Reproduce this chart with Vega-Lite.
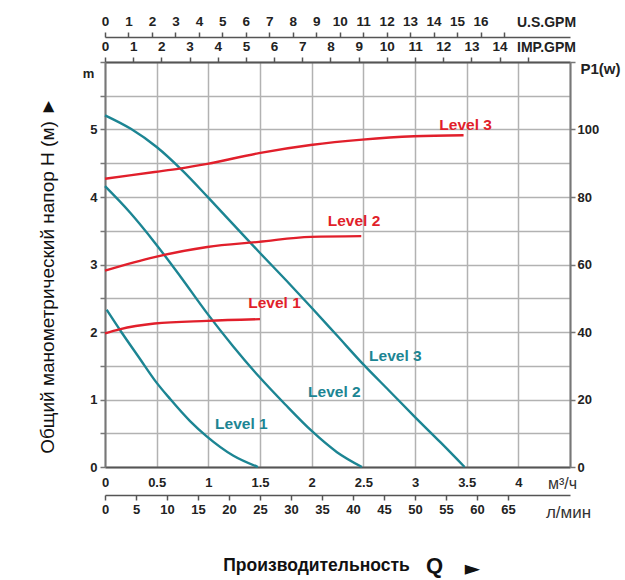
{
  "$schema": "https://vega.github.io/schema/vega-lite/v6.json",
  "width": 465,
  "height": 405,
  "autosize": {"type": "none"},
  "padding": {"left": 105, "top": 62, "right": 55, "bottom": 113},
  "background": "white",
  "config": {
    "view": {"stroke": null},
    "font": "Liberation Sans",
    "axis": {"labelFont": "Liberation Sans", "titleFont": "Liberation Sans", "labelOverlap": false, "labelFlush": false, "labelColor": "#222", "titleColor": "#222"}
  },
  "datasets": {
    "head": [
      {"level": "L3", "Q": 0, "H": 5.21}, {"level": "L3", "Q": 0.25, "H": 5.01}, {"level": "L3", "Q": 0.5, "H": 4.74},
      {"level": "L3", "Q": 0.75, "H": 4.39}, {"level": "L3", "Q": 1.0, "H": 3.99}, {"level": "L3", "Q": 1.25, "H": 3.58},
      {"level": "L3", "Q": 1.5, "H": 3.17}, {"level": "L3", "Q": 1.75, "H": 2.77}, {"level": "L3", "Q": 2.0, "H": 2.36},
      {"level": "L3", "Q": 2.25, "H": 1.94}, {"level": "L3", "Q": 2.5, "H": 1.52}, {"level": "L3", "Q": 2.75, "H": 1.13},
      {"level": "L3", "Q": 3.0, "H": 0.74}, {"level": "L3", "Q": 3.25, "H": 0.36}, {"level": "L3", "Q": 3.48, "H": 0},
      {"level": "L2", "Q": 0, "H": 4.16}, {"level": "L2", "Q": 0.242, "H": 3.77}, {"level": "L2", "Q": 0.484, "H": 3.32},
      {"level": "L2", "Q": 0.726, "H": 2.83}, {"level": "L2", "Q": 0.987, "H": 2.28}, {"level": "L2", "Q": 1.239, "H": 1.79},
      {"level": "L2", "Q": 1.49, "H": 1.34}, {"level": "L2", "Q": 1.742, "H": 0.93}, {"level": "L2", "Q": 2.003, "H": 0.53},
      {"level": "L2", "Q": 2.245, "H": 0.22}, {"level": "L2", "Q": 2.487, "H": 0},
      {"level": "L1", "Q": 0.016, "H": 2.33}, {"level": "L1", "Q": 0.145, "H": 2.03}, {"level": "L1", "Q": 0.339, "H": 1.6},
      {"level": "L1", "Q": 0.484, "H": 1.28}, {"level": "L1", "Q": 0.629, "H": 1.01}, {"level": "L1", "Q": 0.823, "H": 0.68},
      {"level": "L1", "Q": 0.987, "H": 0.45}, {"level": "L1", "Q": 1.239, "H": 0.17}, {"level": "L1", "Q": 1.48, "H": 0}
    ],
    "power": [
      {"level": "L3", "Q": 0, "P": 85.4}, {"level": "L3", "Q": 0.48, "P": 87.4}, {"level": "L3", "Q": 0.72, "P": 88.4},
      {"level": "L3", "Q": 0.99, "P": 89.8}, {"level": "L3", "Q": 1.49, "P": 93.0}, {"level": "L3", "Q": 1.99, "P": 95.4},
      {"level": "L3", "Q": 2.49, "P": 97.0}, {"level": "L3", "Q": 2.99, "P": 98.0}, {"level": "L3", "Q": 3.47, "P": 98.3},
      {"level": "L2", "Q": 0, "P": 58.2}, {"level": "L2", "Q": 0.48, "P": 62.2}, {"level": "L2", "Q": 0.99, "P": 65.2},
      {"level": "L2", "Q": 1.49, "P": 66.7}, {"level": "L2", "Q": 1.99, "P": 68.2}, {"level": "L2", "Q": 2.48, "P": 68.4},
      {"level": "L1", "Q": 0, "P": 39.6}, {"level": "L1", "Q": 0.14, "P": 40.8}, {"level": "L1", "Q": 0.48, "P": 42.5},
      {"level": "L1", "Q": 0.99, "P": 43.3}, {"level": "L1", "Q": 1.5, "P": 43.8}
    ],
    "labels": [
      {"curve": "power", "label": "Level 3", "Q": 3.49, "H": 5.07},
      {"curve": "power", "label": "Level 2", "Q": 2.41, "H": 3.64},
      {"curve": "power", "label": "Level 1", "Q": 1.64, "H": 2.43},
      {"curve": "head", "label": "Level 3", "Q": 2.81, "H": 1.64},
      {"curve": "head", "label": "Level 2", "Q": 2.22, "H": 1.11},
      {"curve": "head", "label": "Level 1", "Q": 1.32, "H": 0.64}
    ],
    "lmin": [{"v": 0}, {"v": 75}],
    "imp": [{"v": 0}, {"v": 16.497}],
    "us": [{"v": 0}, {"v": 19.813}]
  },
  "layer": [
    {
      "data": {"name": "head"},
      "mark": {"type": "line", "interpolate": "monotone", "strokeWidth": 2.4, "color": "#1c8593"},
      "encoding": {
        "x": {
          "field": "Q", "type": "quantitative",
          "scale": {"domain": [0, 4.5], "nice": false, "zero": false},
          "axis": {
            "orient": "bottom", "values": [0, 0.5, 1, 1.5, 2, 2.5, 3, 3.5, 4, 4.5],
            "labelExpr": "datum.value > 4.2 ? '' : format(datum.value, '~g')",
            "grid": true, "gridColor": "#b2b2b2", "gridWidth": 1.5,
            "ticks": false, "domain": true, "domainColor": "#555", "domainWidth": 2,
            "labelPadding": 9, "labelFontWeight": "bold", "labelFontSize": 13,
            "title": "м³/ч", "titleX": 457, "titleY": 16, "titleAlign": "center", "titleBaseline": "middle",
            "titleFontWeight": "normal", "titleFontSize": 16, "titleColor": "#333"
          }
        },
        "y": {
          "field": "H", "type": "quantitative",
          "scale": {"domain": [0, 6], "nice": false},
          "axis": {
            "orient": "left", "values": [0, 0.5, 1, 1.5, 2, 2.5, 3, 3.5, 4, 4.5, 5, 5.5, 6],
            "labelExpr": "datum.value % 1 == 0 && datum.value < 6 ? format(datum.value, 'd') : ''",
            "grid": true, "gridColor": "#b2b2b2", "gridWidth": 1.5,
            "tickSize": 5, "tickColor": "#777", "tickWidth": 1.5, "domainColor": "#777", "domainWidth": 2,
            "labelPadding": 3, "labelFontWeight": "bold", "labelFontSize": 13,
            "title": "m", "titleAngle": 0, "titleX": -17, "titleY": 11, "titleAlign": "center", "titleBaseline": "middle",
            "titleFontWeight": "bold", "titleFontSize": 13
          }
        },
        "detail": {"field": "level", "type": "nominal"}
      }
    },
    {
      "data": {"name": "power"},
      "mark": {"type": "line", "interpolate": "monotone", "strokeWidth": 2.4, "color": "#e11f2b"},
      "encoding": {
        "x": {
          "field": "Q", "type": "quantitative",
          "scale": {"domain": [0, 4.5], "nice": false, "zero": false},
          "axis": {
            "orient": "bottom", "labels": false, "ticks": false, "domain": false, "grid": false,
            "title": "Производительность", "titleX": 211, "titleY": 98, "titleAlign": "center", "titleBaseline": "middle",
            "titleFontSize": 17.5, "titleFontWeight": "bold", "titleColor": "#111"
          }
        },
        "y": {
          "field": "P", "type": "quantitative",
          "scale": {"domain": [0, 120], "nice": false},
          "axis": {
            "orient": "right", "values": [0, 20, 40, 60, 80, 100, 120],
            "labelExpr": "datum.value == 120 ? '' : datum.label",
            "grid": false, "tickSize": 5, "tickColor": "#777", "tickWidth": 1.5, "domainColor": "#777", "domainWidth": 2,
            "labelPadding": 2, "labelFontWeight": "bold", "labelFontSize": 13,
            "title": "P1(w)", "titleAngle": 0, "titleX": 30, "titleY": 6, "titleAlign": "center", "titleBaseline": "middle",
            "titleFontWeight": "bold", "titleFontSize": 15
          }
        },
        "detail": {"field": "level", "type": "nominal"}
      }
    },
    {
      "data": {"name": "labels"},
      "mark": {"type": "text", "fontWeight": "bold", "fontSize": 15.5, "font": "Liberation Sans"},
      "encoding": {
        "x": {
          "field": "Q", "type": "quantitative",
          "scale": {"domain": [0, 4.5], "nice": false, "zero": false},
          "axis": {
            "orient": "bottom", "labels": false, "ticks": false, "domain": false, "grid": false,
            "title": "Q", "titleX": 329, "titleY": 98, "titleAlign": "center", "titleBaseline": "middle",
            "titleFontSize": 22, "titleFontWeight": "bold", "titleColor": "#111"
          }
        },
        "y": {
          "field": "H", "type": "quantitative",
          "scale": {"domain": [0, 6], "nice": false},
          "axis": {
            "orient": "left", "labels": false, "ticks": false, "domain": false, "grid": false,
            "title": "Общий манометрический напор H (м) ►", "titleAngle": 270, "titleX": -58, "titleY": 213,
            "titleAlign": "center", "titleBaseline": "middle", "titleFontSize": 19, "titleFontWeight": "normal", "titleColor": "#111"
          }
        },
        "text": {"field": "label", "type": "nominal"},
        "color": {"field": "curve", "type": "nominal", "scale": {"domain": ["head", "power"], "range": ["#1c8593", "#e11f2b"]}, "legend": null}
      }
    },
    {
      "data": {"name": "lmin"},
      "mark": {"type": "point", "opacity": 0},
      "encoding": {
        "x": {
          "field": "v", "type": "quantitative",
          "scale": {"domain": [0, 75], "nice": false, "zero": false},
          "axis": {
            "orient": "bottom", "offset": 28, "values": [0, 5, 10, 15, 20, 25, 30, 35, 40, 45, 50, 55, 60, 65],
            "grid": false, "tickSize": 5, "tickColor": "#555", "tickWidth": 1.5, "domainColor": "#555", "domainWidth": 1.5,
            "labelPadding": 3, "labelFontWeight": "bold", "labelFontSize": 13,
            "title": "л/мин", "titleX": 463, "titleY": 17, "titleAlign": "center", "titleBaseline": "middle",
            "titleFontWeight": "normal", "titleFontSize": 17, "titleColor": "#333"
          }
        },
        "y": {
          "field": "v", "type": "quantitative",
          "axis": {
            "orient": "left", "labels": false, "ticks": false, "domain": false, "grid": false,
            "title": "►", "titleAngle": 0, "titleX": 367, "titleY": 506, "titleAlign": "center", "titleBaseline": "middle",
            "titleFont": "DejaVu Sans", "titleFontSize": 20, "titleFontWeight": "normal", "titleColor": "#111"
          }
        }
      }
    },
    {
      "data": {"name": "imp"},
      "mark": {"type": "point", "opacity": 0},
      "encoding": {
        "x": {
          "field": "v", "type": "quantitative",
          "scale": {"domain": [0, 16.497], "nice": false, "zero": false},
          "axis": {
            "orient": "top", "values": [0, 1, 2, 3, 4, 5, 6, 7, 8, 9, 10, 11, 12, 13, 14, 15],
            "labelExpr": "datum.value == 15 ? '' : datum.label",
            "grid": false, "tickSize": 5, "tickColor": "#555", "tickWidth": 1.5, "domainColor": "#555", "domainWidth": 2,
            "labelPadding": 4, "labelFontWeight": "bold", "labelFontSize": 13.5,
            "title": "IMP.GPM", "titleX": 441, "titleY": -15, "titleAlign": "center", "titleBaseline": "middle",
            "titleFontWeight": "bold", "titleFontSize": 14, "titleColor": "#222"
          }
        }
      }
    },
    {
      "data": {"name": "us"},
      "mark": {"type": "point", "opacity": 0},
      "encoding": {
        "x": {
          "field": "v", "type": "quantitative",
          "scale": {"domain": [0, 19.813], "nice": false, "zero": false},
          "axis": {
            "orient": "top", "offset": 25, "values": [0, 1, 2, 3, 4, 5, 6, 7, 8, 9, 10, 11, 12, 13, 14, 15, 16, 17],
            "labelExpr": "datum.value == 17 ? '' : datum.label",
            "grid": false, "tickSize": 5, "tickColor": "#555", "tickWidth": 1.5, "domainColor": "#555", "domainWidth": 1.5,
            "labelPadding": 4, "labelFontWeight": "bold", "labelFontSize": 13.5,
            "title": "U.S.GPM", "titleX": 441, "titleY": -15, "titleAlign": "center", "titleBaseline": "middle",
            "titleFontWeight": "bold", "titleFontSize": 14, "titleColor": "#222"
          }
        }
      }
    }
  ],
  "resolve": {"scale": {"x": "independent", "y": "independent"}, "axis": {"x": "independent", "y": "independent"}}
}
